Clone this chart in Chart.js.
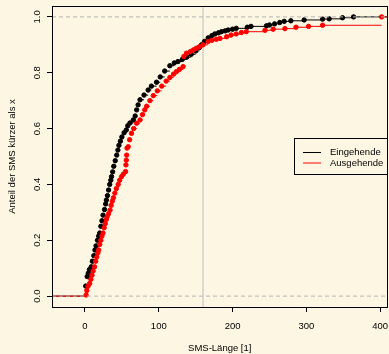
<!DOCTYPE html>
<html>
<head>
<meta charset="utf-8">
<script src="https://cdn.jsdelivr.net/npm/chart.js@4.4.0/dist/chart.umd.min.js"></script>
<style>
html, body { margin: 0; background: #fdf6e3; }
canvas { display: block; }
</style>
</head>
<body>
<canvas id="c" width="389" height="354"></canvas>
<script>
// Legende und Achsen
const seriesNames = ["Eingehende", "Ausgehende"];
const xTicks = [0, 100, 200, 300, 400];
const yTicks = [0, 0.2, 0.4, 0.6, 0.8, 1.0];
const smsLimit = 160;
const refLines = [0, 1];

// ECDF-Punkte (SMS-Länge, Anteil)
const eingX = [1, 3, 4.5, 6, 8.5, 10, 12, 13.5, 15, 17, 18.5, 20, 21.5, 23, 24.5, 26.5, 28, 29, 30.5, 32,
  33.5, 35, 36, 37.5, 39, 41, 43, 44.6, 46, 48, 50, 53, 56, 58, 61, 65.5, 68, 70, 72, 74.6,
  80, 85.6, 90, 97, 102, 108, 115, 121, 126, 132, 138, 144, 150, 155, 158, 162, 167, 172, 176, 181,
  185, 190, 194, 200, 205, 220, 225, 246, 250, 257, 264, 270, 279, 297, 322, 331, 349, 364];
const eingY = [0.036, 0.07, 0.082, 0.095, 0.105, 0.125, 0.145, 0.165, 0.18, 0.2, 0.215, 0.226, 0.25, 0.27, 0.29, 0.31, 0.33, 0.344, 0.36, 0.38,
  0.4, 0.415, 0.428, 0.445, 0.465, 0.485, 0.505, 0.523, 0.54, 0.555, 0.57, 0.585, 0.595, 0.61, 0.62, 0.631, 0.645, 0.667, 0.685, 0.703,
  0.72, 0.738, 0.752, 0.766, 0.785, 0.806, 0.825, 0.835, 0.84, 0.848, 0.856, 0.866, 0.878, 0.89, 0.9, 0.912, 0.925, 0.933, 0.939, 0.943,
  0.947, 0.95, 0.953, 0.956, 0.959, 0.963, 0.966, 0.968, 0.971, 0.975, 0.98, 0.984, 0.986, 0.989, 0.992, 0.993, 0.997, 1.0];

const ausX = [1.5, 2.5, 4, 6.3, 8, 9.5, 11, 13, 14.5, 16, 17.5, 18.5, 20, 21.5, 23, 24.4, 26, 27.5, 29, 30,
  32, 34, 35.5, 37, 38.5, 40.5, 42.5, 45, 47, 49.6, 52, 55, 55.5, 56, 56.5, 57, 58.6, 60.5, 63, 66,
  70, 74.6, 78, 81, 83.6, 88, 92.6, 98, 104, 110, 115, 120, 124, 128, 133, 134, 137.5, 143, 147, 151,
  155, 160, 167, 172, 178, 183, 192, 198, 205, 212, 218.5, 244, 255, 271, 286, 303, 322, 402];
const ausY = [0.004, 0.02, 0.035, 0.045, 0.06, 0.075, 0.09, 0.105, 0.125, 0.14, 0.155, 0.165, 0.185, 0.2, 0.215, 0.226, 0.245, 0.26, 0.275, 0.284,
  0.295, 0.308, 0.325, 0.34, 0.352, 0.369, 0.385, 0.4, 0.415, 0.428, 0.437, 0.446, 0.47, 0.487, 0.505, 0.53, 0.535, 0.56, 0.583, 0.6,
  0.619, 0.631, 0.65, 0.667, 0.68, 0.7, 0.718, 0.735, 0.752, 0.77, 0.783, 0.795, 0.804, 0.812, 0.822, 0.858, 0.87, 0.876, 0.882, 0.888,
  0.893, 0.9, 0.912, 0.916, 0.92, 0.923, 0.929, 0.935, 0.939, 0.944, 0.947, 0.952, 0.956, 0.958, 0.963, 0.966, 0.97, 1.0];

const xMin = -44.7, xMax = 410;
const yMin = -0.039, yMax = 1.039;
const colors = ["#000000", "#ff0000"];
const bg = "#fdf6e3";

function dots(xs, ys) {
  return xs.map((x, i) => ({ x: x, y: ys[i] }));
}

// nur waagrechte Stufen wie plot.ecdf(verticals = FALSE)
function steps(xs, ys) {
  const d = [{ x: xMin, y: 0 }, { x: xs[0], y: 0 }, { x: xs[0], y: null }];
  for (let i = 0; i < xs.length; i++) {
    const xe = i < xs.length - 1 ? xs[i + 1] : xMax;
    d.push({ x: xs[i], y: ys[i] }, { x: xe, y: ys[i] }, { x: xe, y: null });
  }
  return d;
}

// Achsen sollen keinen Platz für Randbeschriftungen reservieren
function noEdgePadding(s) {
  s.paddingLeft = s.paddingRight = s.paddingTop = s.paddingBottom = 0;
}

const frame = {
  id: "frame",
  beforeDraw(chart) {
    const c = chart.ctx;
    c.save();
    c.fillStyle = bg;
    c.fillRect(0, 0, chart.width, chart.height);
    c.restore();
  },
  afterDraw(chart) {
    const c = chart.ctx, a = chart.chartArea;
    c.save();
    c.strokeStyle = "#000";
    c.lineWidth = 1;
    c.strokeRect(Math.round(a.left) + 0.5, Math.round(a.top) + 0.5,
      Math.round(a.right - a.left) - 1, Math.round(a.bottom - a.top));
    // Legende
    const x0 = 294.5, y0 = 138.5, x1 = Math.round(a.right) - 0.5, y1 = 174.5;
    c.fillStyle = bg;
    c.fillRect(x0, y0, x1 - x0, y1 - y0);
    c.strokeRect(x0, y0, x1 - x0, y1 - y0);
    c.font = "9.5px 'Liberation Sans', Arial, sans-serif";
    c.textBaseline = "middle";
    c.textAlign = "left";
    seriesNames.forEach((name, i) => {
      const y = 152.5 + i * 10.5;
      c.strokeStyle = colors[i];
      c.beginPath();
      c.moveTo(303, y);
      c.lineTo(321, y);
      c.stroke();
      c.fillStyle = "#000";
      c.fillText(name, 330, y);
    });
    c.restore();
  }
};

Chart.defaults.font.family = "'Liberation Sans', Arial, sans-serif";
Chart.defaults.font.size = 9.5;
Chart.defaults.color = "#000";

const datasets = [];
// Referenzlinien
refLines.forEach(v => datasets.push({
  data: [{ x: xMin, y: v }, { x: xMax, y: v }],
  borderColor: "#b4b4b4", borderWidth: 1, borderDash: [4, 3],
  pointRadius: 0, showLine: true, order: 0
}));
datasets.push({
  data: [{ x: smsLimit, y: yMin }, { x: smsLimit, y: yMax }],
  borderColor: "#bdbdbd", borderWidth: 1,
  pointRadius: 0, showLine: true, order: 9
});
[[eingX, eingY], [ausX, ausY]].forEach(([xs, ys], i) => {
  datasets.push({
    label: seriesNames[i],
    data: steps(xs, ys),
    borderColor: colors[i], borderWidth: 1,
    pointRadius: 0, showLine: true, spanGaps: false, order: 6 - i * 2
  });
  datasets.push({
    data: dots(xs, ys),
    backgroundColor: colors[i], borderColor: colors[i], borderWidth: 1,
    pointRadius: 2.2, showLine: false, order: 5 - i * 2
  });
});

new Chart(document.getElementById("c"), {
  type: "scatter",
  data: { datasets: datasets },
  options: {
    responsive: false,
    animation: false,
    layout: { autoPadding: false, padding: { top: 6, right: 1.5, left: 0, bottom: 0 } },
    plugins: { legend: { display: false }, tooltip: { enabled: false } },
    scales: {
      x: {
        min: xMin, max: xMax,
        afterFit: s => { s.height = 47; noEdgePadding(s); },
        afterBuildTicks: s => { s.ticks = xTicks.map(v => ({ value: v })); },
        border: { display: false },
        grid: { drawOnChartArea: false, drawTicks: true, tickLength: 5, color: "#000" },
        ticks: { padding: 8.5, maxRotation: 0, autoSkip: false, callback: v => String(v) },
        title: { display: true, text: "SMS-Länge [1]", padding: { top: 0, bottom: 0 } }
      },
      y: {
        min: yMin, max: yMax,
        afterFit: s => { s.width = 52; noEdgePadding(s); },
        afterBuildTicks: s => { s.ticks = yTicks.map(v => ({ value: v })); },
        border: { display: false },
        grid: { drawOnChartArea: false, drawTicks: true, tickLength: 5, color: "#000" },
        ticks: { padding: 3, minRotation: 90, maxRotation: 90, crossAlign: "center", autoSkip: false,
          callback: v => v.toFixed(1) },
        title: { display: true, text: "Anteil der SMS kürzer als x", padding: { top: 7, bottom: 0 } }
      }
    }
  },
  plugins: [frame]
});
</script>
</body>
</html>
